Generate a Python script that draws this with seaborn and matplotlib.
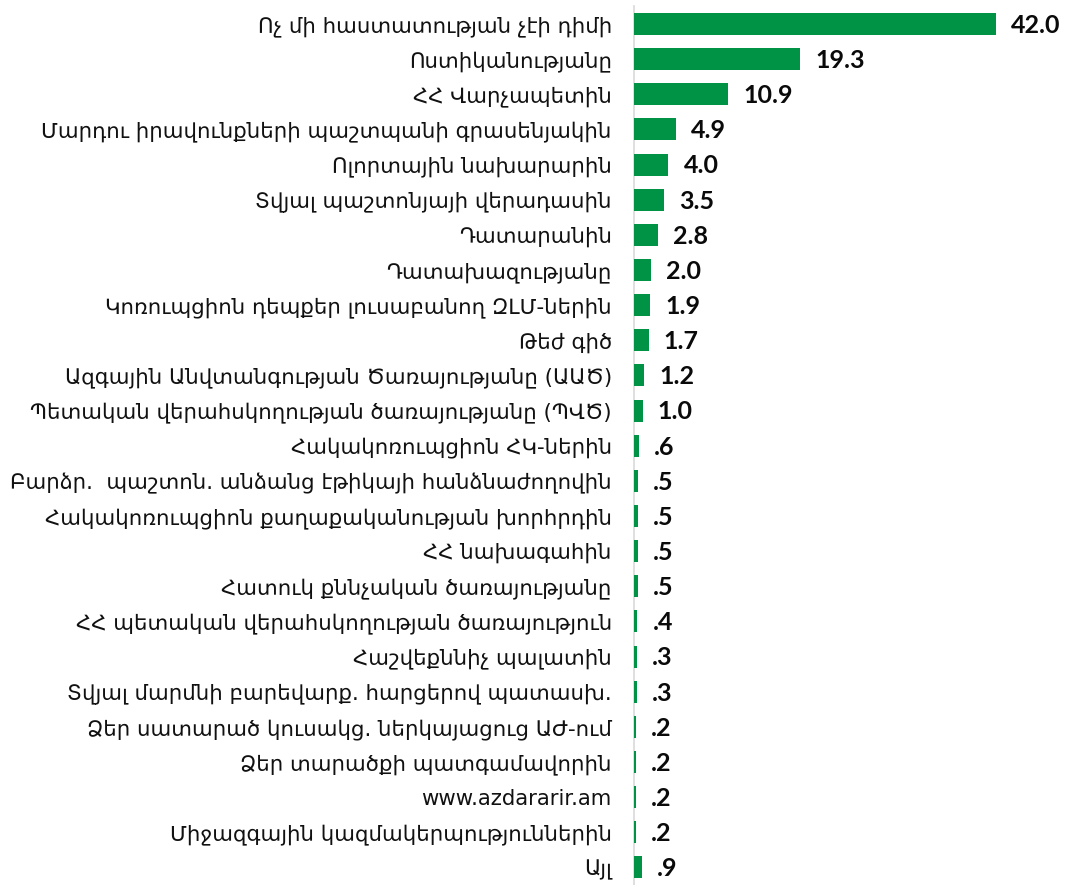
import matplotlib
matplotlib.use("Agg")
import matplotlib.pyplot as plt
import seaborn as sns
import pandas as pd

categories = [
    "Ոչ մի հաստատության չէի դիմի",
    "Ոստիկանությանը",
    "ՀՀ Վարչապետին",
    "Մարդու իրավունքների պաշտպանի գրասենյակին",
    "Ոլորտային նախարարին",
    "Տվյալ պաշտոնյայի վերադասին",
    "Դատարանին",
    "Դատախազությանը",
    "Կոռուպցիոն դեպքեր լուսաբանող ԶԼՄ-ներին",
    "Թեժ գիծ",
    "Ազգային Անվտանգության Ծառայությանը (ԱԱԾ)",
    "Պետական վերահսկողության ծառայությանը (ՊՎԾ)",
    "Հակակոռուպցիոն ՀԿ-ներին",
    "Բարձր.  պաշտոն. անձանց էթիկայի հանձնաժողովին",
    "Հակակոռուպցիոն քաղաքականության խորհրդին",
    "ՀՀ նախագահին",
    "Հատուկ քննչական ծառայությանը",
    "ՀՀ պետական վերահսկողության ծառայություն",
    "Հաշվեքննիչ պալատին",
    "Տվյալ մարմնի բարեվարք. հարցերով պատասխ.",
    "Ձեր սատարած կուսակց. ներկայացուց ԱԺ-ում",
    "Ձեր տարածքի պատգամավորին",
    "www.azdararir.am",
    "Միջազգային կազմակերպություններին",
    "Այլ",
]
values = [42.0, 19.3, 10.9, 4.9, 4.0, 3.5, 2.8, 2.0, 1.9, 1.7, 1.2, 1.0,
          0.6, 0.5, 0.5, 0.5, 0.5, 0.4, 0.3, 0.3, 0.2, 0.2, 0.2, 0.2, 0.9]

df = pd.DataFrame({"category": categories, "value": values})

sns.set_style("white")
plt.rcParams["font.family"] = ["DejaVu Sans"]

W, H = 1071, 885
fig = plt.figure(figsize=(W / 100, H / 100), dpi=100)
ax = fig.add_axes([634 / W, 0.0, 1 - 634 / W, 1 - 6.4 / H])

green = "#009245"
sns.barplot(data=df, x="value", y="category", orient="h", color=green,
            width=0.625, saturation=1, linewidth=0, ax=ax, zorder=3)

ax.set_xlim(0, 50.7)
ax.set_ylim(len(categories) - 0.5, -0.5)

def fmt(v):
    s = f"{v:.1f}"
    return s[1:] if s.startswith("0") else s

# value labels, about 15 px to the right of each bar end
for i, v in enumerate(values):
    ax.annotate(fmt(v), xy=(v, i), xytext=(15 * 0.72, -1), textcoords="offset points",
                ha="left", va="center", fontsize=18, fontweight="bold",
                family=["Lato", "DejaVu Sans"], color="#0a0a0a")

ax.set_xlabel("")
ax.set_ylabel("")
ax.set_xticks([])
ax.tick_params(axis="y", length=0, pad=16, labelsize=15.3, labelcolor="#111111")
for side in ["top", "right", "bottom"]:
    ax.spines[side].set_visible(False)
ax.spines["left"].set_color("#d9d9d9")
ax.spines["left"].set_linewidth(1.2)
ax.spines["left"].set_zorder(1)

fig.savefig("out.png", dpi=100)
